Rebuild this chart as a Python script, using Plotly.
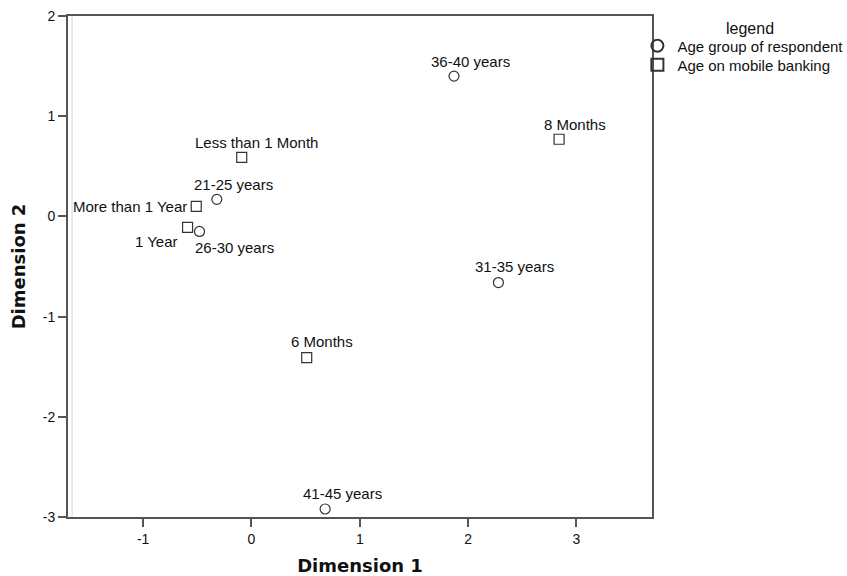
import plotly.graph_objects as go

# Age group of respondent (circles)
age_labels = ["21-25 years", "26-30 years", "31-35 years", "36-40 years", "41-45 years"]
age_dim1 = [-0.32, -0.48, 2.28, 1.87, 0.68]
age_dim2 = [0.17, -0.15, -0.66, 1.40, -2.92]

# Age on mobile banking (squares)
mb_labels = ["Less than 1 Month", "6 Months", "8 Months", "1 Year", "More than 1 Year"]
mb_dim1 = [-0.09, 0.51, 2.84, -0.59, -0.51]
mb_dim2 = [0.59, -1.41, 0.77, -0.11, 0.10]

# axis ticks
x_ticks = [-1, 0, 1, 2, 3]
x_ticklabels = ["-1", "0", "1", "2", "3"]
y_ticks = [-3, -2, -1, 0, 1, 2]
y_ticklabels = ["-3", "-2", "-1", "0", "1", "2"]

# label placement styles (pixel offsets, anchors)
age_label_style = [
    dict(xshift=17, yshift=15, xanchor="center"),
    dict(xshift=35, yshift=-16, xanchor="center"),
    dict(xshift=16, yshift=16, xanchor="center"),
    dict(xshift=16, yshift=15, xanchor="center"),
    dict(xshift=17, yshift=15, xanchor="center"),
]
mb_label_style = [
    dict(xshift=15, yshift=15, xanchor="center"),
    dict(xshift=15, yshift=16, xanchor="center"),
    dict(xshift=16, yshift=15, xanchor="center"),
    dict(xshift=-8, yshift=-14, xanchor="right"),
    dict(xshift=-7, yshift=0, xanchor="right"),
]

FONT = "Liberation Sans, Arial, sans-serif"
LINE = "#555555"
TXT = "#111111"

fig = go.Figure()
fig.add_trace(go.Scatter(
    x=age_dim1, y=age_dim2, mode="markers", name="Age group of respondent",
    marker=dict(symbol="circle-open", size=10, color="#333333", line=dict(width=1.2)),
    hoverinfo="text", text=age_labels, legend="legend",
))
fig.add_trace(go.Scatter(
    x=mb_dim1, y=mb_dim2, mode="markers", name="Age on mobile banking",
    marker=dict(symbol="square-open", size=10, color="#333333", line=dict(width=1.2)),
    hoverinfo="text", text=mb_labels, legend="legend2",
))

annotations = []
for labels, xs, ys, styles in [(age_labels, age_dim1, age_dim2, age_label_style),
                                (mb_labels, mb_dim1, mb_dim2, mb_label_style)]:
    for lab, x, y, st in zip(labels, xs, ys, styles):
        annotations.append(dict(
            x=x, y=y, xref="x", yref="y", text=lab, showarrow=False,
            xanchor=st["xanchor"], yanchor="middle",
            xshift=st["xshift"], yshift=st["yshift"],
            font=dict(family=FONT, size=15, color=TXT),
        ))

# legend title
annotations.append(dict(
    x=1.167, y=0.976, xref="paper", yref="paper", text="legend", showarrow=False,
    xanchor="center", yanchor="middle", font=dict(family=FONT, size=16, color=TXT),
))

leg_common = dict(xanchor="left", yanchor="middle", bgcolor="rgba(0,0,0,0)",
                  font=dict(family=FONT, size=15, color=TXT), itemsizing="constant")

fig.update_layout(
    width=847, height=576,
    margin=dict(l=67.5, r=194.7, t=16, b=59, autoexpand=False),
    paper_bgcolor="white", plot_bgcolor="white",
    showlegend=True,
    legend=dict(x=0.975, y=0.940, **leg_common),
    legend2=dict(x=0.975, y=0.902, **leg_common),
    annotations=annotations,
    shapes=[dict(type="line", xref="paper", yref="paper", x0=0.007, x1=0.007, y0=0, y1=1,
                 line=dict(color="#d4d4d4", width=1), layer="below")],
    xaxis=dict(
        range=[-1.694, 3.698], tickvals=x_ticks, ticktext=x_ticklabels,
        showgrid=False, zeroline=False,
        showline=True, linecolor=LINE, linewidth=2, mirror=True,
        ticks="outside", ticklen=8, tickcolor=LINE, tickwidth=1.5,
        tickfont=dict(family=FONT, size=14, color=TXT),
        title=dict(text="<b>Dimension 1</b>", standoff=15,
                   font=dict(family="DejaVu Sans", size=18, color=TXT)),
    ),
    yaxis=dict(
        range=[-3, 2], tickvals=y_ticks, ticktext=y_ticklabels,
        showgrid=False, zeroline=False,
        showline=True, linecolor=LINE, linewidth=2, mirror=True,
        ticks="outside", ticklen=8, tickcolor=LINE, tickwidth=1.5,
        tickfont=dict(family=FONT, size=14, color=TXT),
        title=dict(text="<b>Dimension 2</b>", standoff=12,
                   font=dict(family="DejaVu Sans", size=18, color=TXT)),
    ),
)

fig.write_html("out.html")
